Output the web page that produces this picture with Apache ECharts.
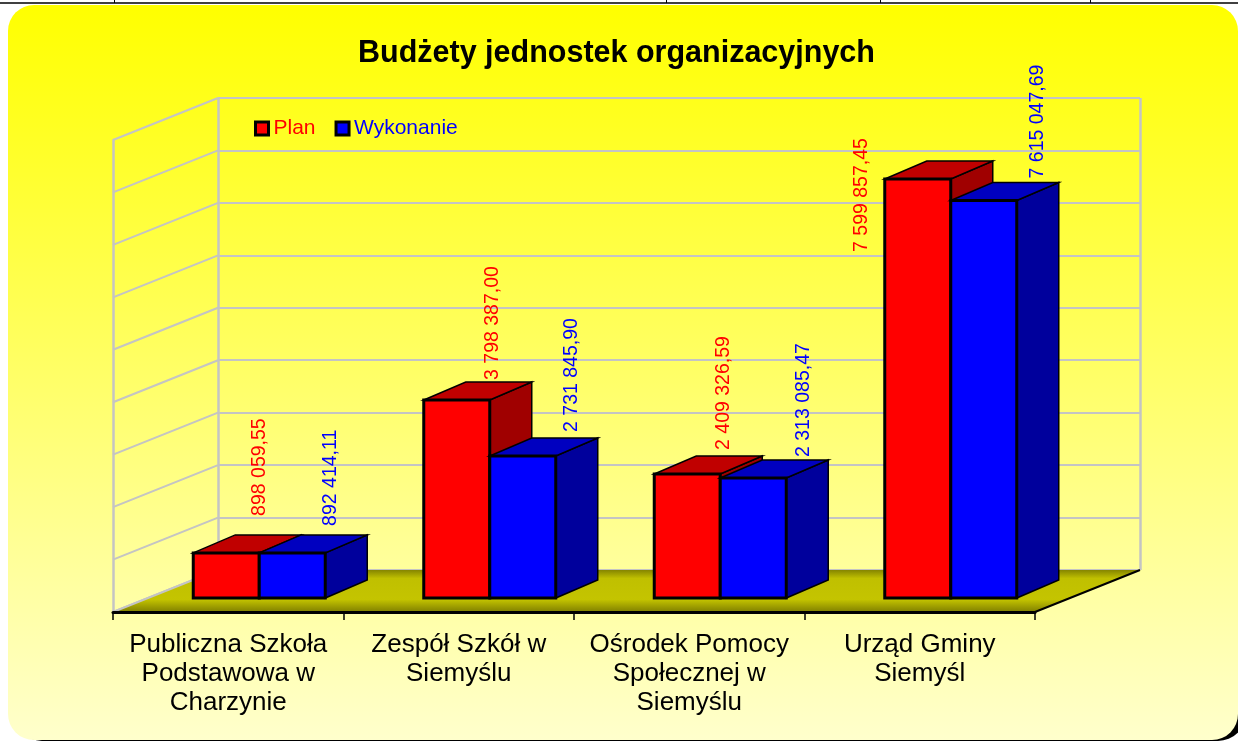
<!DOCTYPE html>
<html>
<head>
<meta charset="utf-8">
<style>html,body{margin:0;padding:0;background:#fff}#c{width:1238px;height:741px}</style>
<script src="https://cdn.jsdelivr.net/npm/echarts@6/dist/echarts.min.js"></script>
</head>
<body>
<div id="c"></div>
<script>
// ---- data ----
const categories = ['Publiczna Szkoła\nPodstawowa w\nCharzynie', 'Zespół Szkół w\nSiemyślu', 'Ośrodek Pomocy\nSpołecznej w\nSiemyślu', 'Urząd Gminy\nSiemyśl'];
// bar heights as drawn in the picture
const planValues = [860000, 3776000, 2365000, 7990000];
const wykonanieValues = [860000, 2708000, 2288000, 7580000];
// printed value labels
const planLabels = ['898 059,55', '3 798 387,00', '2 409 326,59', '7 599 857,45'];
const wykonanieLabels = ['892 414,11', '2 731 845,90', '2 313 085,47', '7 615 047,69'];
const wallTicks = [0, 1000000, 2000000, 3000000, 4000000, 5000000, 6000000, 7000000, 8000000, 9000000];

// ---- layout (not data) ----
const DEPTH_X = 105, DEPTH_Y = -42;        // chart box depth
const BAR_DX = 42, BAR_DY = -18;           // bar depth
const BAR_SHIFT_X = 31, BAR_SHIFT_Y = -14; // bar front plane relative to axis plane
const BAR_W = 66;
const planLabelOffsets = [[33, -37], [36, -20], [36, -24], [-56, 73]];
const wykLabelOffsets = [[38, -27], [49, -24], [50, -21], [54, -22]];
const FONT = '"Liberation Sans", Arial, sans-serif';

const chart = echarts.init(document.getElementById('c'), null, {renderer: 'canvas'});

function barRender(side, colors, labels, offsets) {
  return function (params, api) {
    const i = api.value(0), v = api.value(1);
    const top = api.coord([i, v]), base = api.coord([i, 0]);
    const x0 = base[0] + BAR_SHIFT_X + (side < 0 ? -BAR_W : 0), x1 = x0 + BAR_W;
    const yT = top[1] + BAR_SHIFT_Y, yB = base[1] + BAR_SHIFT_Y;
    const thin = {stroke: '#000', lineWidth: 1.5, lineJoin: 'miter'};
    const thick = {stroke: '#000', lineWidth: 3, lineJoin: 'miter'};
    const off = offsets[params.dataIndex];
    return {
      type: 'group',
      children: [
        {type: 'polygon', shape: {points: [[x1, yT], [x1 + BAR_DX, yT + BAR_DY], [x1 + BAR_DX, yB + BAR_DY], [x1, yB]]},
          style: Object.assign({fill: colors.side}, thin)},
        {type: 'polygon', shape: {points: [[x0, yT], [x0 + BAR_DX, yT + BAR_DY], [x1 + BAR_DX, yT + BAR_DY], [x1, yT]]},
          style: Object.assign({fill: colors.top}, thin)},
        {type: 'rect', shape: {x: x0, y: yT, width: BAR_W, height: yB - yT},
          style: Object.assign({fill: colors.front}, thick)},
        {type: 'text', x: (x0 + x1) / 2 + off[0], y: yT + off[1], rotation: Math.PI / 2, z2: 50,
          style: {text: labels[params.dataIndex], fill: colors.front, font: '19.5px ' + FONT, textAlign: 'left', textVerticalAlign: 'middle'}}
      ]
    };
  };
}

const red = {front: '#ff0000', top: '#c00000', side: '#a00000'};
const blue = {front: '#0000ff', top: '#0000c0', side: '#00009c'};

chart.setOption({
  animation: false,
  backgroundColor: '#ffffff',
  title: {
    text: 'Budżety jednostek organizacyjnych', left: 353, top: 33,
    textStyle: {fontFamily: FONT, fontWeight: 'bold', fontSize: 30.5, color: '#000'}
  },
  legend: {
    left: 249, top: 113, itemWidth: 13, itemHeight: 13, itemGap: 19, icon: 'rect',
    data: [
      {name: 'Plan', textStyle: {color: '#ff0000', fontFamily: FONT, fontSize: 21},
        itemStyle: {color: '#ff0000', borderColor: '#000', borderWidth: 3}},
      {name: 'Wykonanie', textStyle: {color: '#0000ff', fontFamily: FONT, fontSize: 21},
        itemStyle: {color: '#0000ff', borderColor: '#000', borderWidth: 3}}
    ]
  },
  graphic: [
    {type: 'line', z: -20, shape: {x1: 0, y1: 3, x2: 1238, y2: 3}, style: {stroke: '#000', lineWidth: 1.5}},
    {type: 'line', z: -20, shape: {x1: 114.5, y1: 0, x2: 114.5, y2: 3}, style: {stroke: '#000', lineWidth: 1}},
    {type: 'line', z: -20, shape: {x1: 666.5, y1: 0, x2: 666.5, y2: 3}, style: {stroke: '#000', lineWidth: 1}},
    {type: 'line', z: -20, shape: {x1: 880.5, y1: 0, x2: 880.5, y2: 3}, style: {stroke: '#000', lineWidth: 1}},
    {type: 'line', z: -20, shape: {x1: 1090.5, y1: 0, x2: 1090.5, y2: 3}, style: {stroke: '#000', lineWidth: 1}},
    {type: 'rect', z: -19, shape: {x: 14, y: 400, width: 1232, height: 341, r: 28}, style: {fill: '#000'}},
    {type: 'rect', z: -18, shape: {x: 8, y: 5, width: 1230, height: 735, r: 26},
      style: {fill: new echarts.graphic.LinearGradient(0, 0, 0, 1, [
        {offset: 0, color: '#ffff00'}, {offset: 1, color: '#ffffcc'}])}}
  ],
  grid: [
    {left: 218, top: 98, width: 922, height: 472},
    {left: 113, top: 140, width: 922, height: 472}
  ],
  xAxis: [
    {type: 'value', gridIndex: 0, min: 0, max: 1, interval: 1,
      axisLine: {show: false}, axisTick: {show: false}, axisLabel: {show: false},
      splitLine: {show: true, lineStyle: {color: '#c4c4c4', width: 2.5}}},
    {type: 'category', gridIndex: 1, data: categories, z: 5,
      axisLine: {show: true, lineStyle: {color: '#000', width: 3}},
      axisTick: {show: true, length: 8, alignWithLabel: false, lineStyle: {color: '#000', width: 1.5}},
      axisLabel: {interval: 0, margin: 18, color: '#000', fontFamily: FONT, fontSize: 26, lineHeight: 29},
      splitLine: {show: false}}
  ],
  yAxis: [
    {type: 'value', gridIndex: 0, min: 0, max: 9000000, interval: 1000000,
      axisLine: {show: false}, axisTick: {show: false}, axisLabel: {show: false},
      splitLine: {show: true, lineStyle: {color: '#c4c4c4', width: 2}}},
    {type: 'value', gridIndex: 1, min: 0, max: 9000000, interval: 1000000,
      axisLine: {show: true, lineStyle: {color: '#c4c4c4', width: 2.5}}, axisTick: {show: false}, axisLabel: {show: false},
      splitLine: {show: false}}
  ],
  series: [
    {
      type: 'custom', name: 'wall', xAxisIndex: 1, yAxisIndex: 1, z: 1, silent: true,
      data: wallTicks.map(v => [0, v]),
      renderItem: function (params, api) {
        const p = api.coord([0, api.value(1)]);
        const band = api.size([1, 0])[0];
        const x = p[0] - band / 2;
        return {type: 'line', shape: {x1: x, y1: p[1], x2: x + DEPTH_X, y2: p[1] + DEPTH_Y},
          style: {stroke: '#c4c4c4', lineWidth: 2}};
      }
    },
    {
      type: 'custom', name: 'floor', xAxisIndex: 1, yAxisIndex: 1, z: 2, silent: true,
      data: [[0, 0]],
      renderItem: function (params, api) {
        const p = api.coord([0, 0]);
        const band = api.size([1, 0])[0];
        const x0 = p[0] - band / 2, x1 = x0 + band * categories.length, y = p[1];
        return {
          type: 'group',
          children: [
            {type: 'polygon', shape: {points: [[x0, y], [x0 + DEPTH_X, y + DEPTH_Y], [x1 + DEPTH_X, y + DEPTH_Y], [x1, y]]},
              style: {fill: new echarts.graphic.LinearGradient(0, 0, 0, 1, [
                {offset: 0, color: '#858500'}, {offset: 0.2, color: '#c0c000'}, {offset: 0.7, color: '#c4c400'}, {offset: 1, color: '#808000'}])}},
            {type: 'line', shape: {x1: x1, y1: y, x2: x1 + DEPTH_X, y2: y + DEPTH_Y}, style: {stroke: '#000', lineWidth: 2}},
            {type: 'line', shape: {x1: x0, y1: y, x2: x0 + DEPTH_X, y2: y + DEPTH_Y}, style: {stroke: '#c4c4c4', lineWidth: 2}}
          ]
        };
      }
    },
    {
      type: 'custom', name: 'Plan', xAxisIndex: 1, yAxisIndex: 1, z: 3,
      itemStyle: {color: '#ff0000'},
      data: planValues.map((v, i) => [i, v]),
      renderItem: barRender(-1, red, planLabels, planLabelOffsets)
    },
    {
      type: 'custom', name: 'Wykonanie', xAxisIndex: 1, yAxisIndex: 1, z: 4,
      itemStyle: {color: '#0000ff'},
      data: wykonanieValues.map((v, i) => [i, v]),
      renderItem: barRender(1, blue, wykonanieLabels, wykLabelOffsets)
    }
  ]
});
</script>
</body>
</html>
